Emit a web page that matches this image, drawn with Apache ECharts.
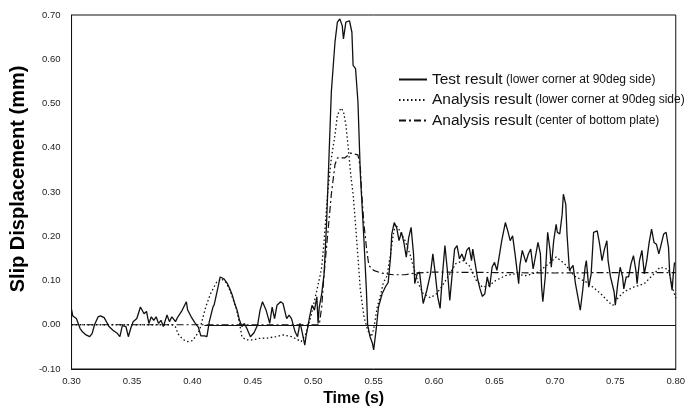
<!DOCTYPE html>
<html>
<head>
<meta charset="utf-8">
<script src="https://cdn.jsdelivr.net/npm/echarts@6/dist/echarts.min.js"></script>
<style>html,body{margin:0;padding:0;background:#fff}#c{width:688px;height:412px}</style>
</head>
<body>
<div id="c"></div>
<script>
const xTicks = [0.30,0.35,0.40,0.45,0.50,0.55,0.60,0.65,0.70,0.75,0.80];
const seriesNames = ['Test result (lower corner at 90deg side)','Analysis result (lower corner at 90deg side)','Analysis result (center of bottom plate)'];

const testTime = [0.300,0.301,0.304,0.307,0.309,0.312,0.315,0.317,0.319,0.322,0.324,0.327,0.328,0.331,0.334,0.338,0.340,0.342,0.345,0.347,0.349,0.351,0.354,0.357,0.360,0.362,0.364,0.366,0.368,0.370,0.372,0.374,0.376,0.379,0.381,0.383,0.386,0.388,0.391,0.395,0.396,0.399,0.402,0.405,0.407,0.410,0.412,0.414,0.417,0.418,0.420,0.423,0.426,0.429,0.431,0.433,0.435,0.437,0.439,0.441,0.443,0.445,0.448,0.451,0.454,0.456,0.458,0.461,0.464,0.466,0.468,0.470,0.473,0.475,0.478,0.480,0.482,0.485,0.487,0.489,0.490,0.493,0.494,0.497,0.499,0.501,0.503,0.504,0.505,0.507,0.509,0.511,0.513,0.515,0.518,0.520,0.522,0.524,0.525,0.527,0.530,0.532,0.533,0.535,0.537,0.539,0.542,0.544,0.545,0.547,0.549,0.550,0.552,0.554,0.557,0.560,0.562,0.564,0.565,0.567,0.569,0.571,0.573,0.575,0.577,0.579,0.581,0.583,0.584,0.586,0.588,0.590,0.591,0.594,0.597,0.599,0.601,0.603,0.605,0.607,0.609,0.611,0.613,0.615,0.617,0.619,0.621,0.623,0.625,0.627,0.629,0.631,0.632,0.634,0.636,0.638,0.640,0.642,0.644,0.646,0.648,0.650,0.652,0.654,0.656,0.659,0.661,0.663,0.665,0.667,0.670,0.671,0.673,0.676,0.678,0.680,0.682,0.685,0.686,0.688,0.689,0.690,0.692,0.694,0.696,0.697,0.699,0.701,0.702,0.704,0.706,0.707,0.709,0.710,0.712,0.713,0.715,0.717,0.719,0.721,0.723,0.725,0.726,0.728,0.730,0.732,0.735,0.737,0.739,0.741,0.743,0.744,0.746,0.749,0.750,0.752,0.754,0.756,0.757,0.759,0.761,0.763,0.765,0.767,0.768,0.770,0.772,0.774,0.776,0.778,0.780,0.782,0.784,0.786,0.788,0.790,0.792,0.794,0.795,0.797,0.798,0.799];
const testSlip = [0.034,0.020,0.014,-0.008,-0.016,-0.023,-0.027,-0.020,0.000,0.018,0.020,0.016,0.012,-0.004,-0.012,-0.020,-0.027,-0.002,-0.004,-0.027,-0.008,0.007,0.014,0.040,0.025,0.030,0.003,0.018,0.010,0.018,0.003,0.010,-0.004,0.022,0.007,0.018,0.007,0.018,0.030,0.052,0.034,0.018,0.005,-0.006,-0.025,-0.025,-0.027,0.007,0.040,0.045,0.070,0.108,0.104,0.093,0.081,0.067,0.048,0.033,0.010,-0.004,0.003,-0.008,-0.027,-0.018,0.000,0.033,0.052,0.033,0.003,0.040,0.014,0.044,0.052,0.048,0.014,0.022,0.014,-0.016,-0.027,0.003,-0.006,-0.046,-0.027,0.018,0.044,0.033,0.063,0.003,0.040,0.070,0.115,0.227,0.377,0.527,0.639,0.684,0.691,0.676,0.646,0.684,0.687,0.661,0.586,0.579,0.504,0.340,0.190,0.078,0.000,-0.027,-0.042,-0.057,-0.012,0.040,0.070,0.087,0.095,0.153,0.205,0.231,0.220,0.190,0.209,0.186,0.153,0.197,0.220,0.160,0.093,0.115,0.119,0.070,0.048,0.078,0.115,0.160,0.115,0.063,0.037,0.115,0.179,0.123,0.055,0.115,0.171,0.179,0.149,0.160,0.145,0.168,0.175,0.145,0.171,0.138,0.104,0.081,0.064,0.070,0.108,0.085,0.130,0.141,0.123,0.156,0.190,0.231,0.212,0.190,0.201,0.160,0.093,0.134,0.168,0.141,0.160,0.171,0.126,0.171,0.186,0.160,0.085,0.052,0.108,0.209,0.168,0.130,0.190,0.227,0.209,0.205,0.250,0.295,0.272,0.205,0.123,0.119,0.134,0.093,0.063,0.033,0.078,0.130,0.145,0.085,0.115,0.209,0.212,0.182,0.145,0.171,0.190,0.145,0.108,0.074,0.044,0.093,0.130,0.108,0.081,0.108,0.108,0.138,0.156,0.123,0.093,0.145,0.168,0.115,0.145,0.186,0.216,0.186,0.182,0.160,0.182,0.205,0.209,0.175,0.115,0.078,0.115,0.141];

const ana90Time = [0.300,0.383,0.386,0.388,0.392,0.396,0.400,0.403,0.406,0.411,0.415,0.420,0.424,0.428,0.431,0.436,0.439,0.441,0.444,0.450,0.455,0.462,0.469,0.475,0.482,0.486,0.490,0.494,0.498,0.503,0.506,0.507,0.509,0.512,0.515,0.518,0.520,0.523,0.525,0.527,0.529,0.531,0.533,0.535,0.537,0.539,0.542,0.545,0.548,0.550,0.553,0.556,0.558,0.561,0.564,0.566,0.568,0.571,0.576,0.580,0.583,0.587,0.591,0.597,0.602,0.607,0.613,0.618,0.624,0.629,0.635,0.640,0.646,0.651,0.659,0.667,0.676,0.686,0.695,0.701,0.708,0.716,0.727,0.738,0.745,0.748,0.752,0.757,0.765,0.774,0.782,0.787,0.794,0.798,0.800];
const ana90Slip = [0,0,-0.005,-0.020,-0.033,-0.038,-0.036,-0.025,-0.012,0.040,0.070,0.096,0.104,0.095,0.078,0.040,0.003,-0.027,-0.034,-0.034,-0.031,-0.030,-0.027,-0.023,-0.027,-0.032,-0.038,-0.020,0.018,0.078,0.115,0.130,0.190,0.300,0.377,0.429,0.474,0.490,0.482,0.452,0.400,0.340,0.295,0.227,0.153,0.078,0.018,-0.012,-0.027,-0.010,0.040,0.070,0.095,0.110,0.160,0.200,0.227,0.215,0.190,0.160,0.130,0.093,0.070,0.061,0.070,0.089,0.115,0.138,0.145,0.134,0.100,0.085,0.089,0.100,0.111,0.115,0.111,0.119,0.138,0.153,0.138,0.110,0.095,0.070,0.050,0.044,0.060,0.074,0.085,0.093,0.115,0.130,0.125,0.078,0.060];

const centerTime = [0.300,0.505,0.507,0.509,0.512,0.515,0.518,0.520,0.526,0.531,0.537,0.539,0.540,0.542,0.544,0.546,0.550,0.556,0.566,0.576,0.585,0.600,0.650,0.700,0.750,0.800];
const centerSlip = [0,0,0.040,0.115,0.205,0.295,0.362,0.377,0.377,0.388,0.384,0.354,0.300,0.227,0.175,0.134,0.123,0.117,0.113,0.113,0.117,0.119,0.118,0.117,0.118,0.118];

const zeroLineFrom = 0.41;

function pairs(t, v){ return t.map((x,i)=>[x, v[i]]); }

const chart = echarts.init(document.getElementById('c'), null, {renderer:'canvas'});
const FONT = 'Liberation Sans, Arial, sans-serif';
chart.setOption({
  animation:false,
  backgroundColor:'#fff',
  color:['#111','#111','#111'],
  grid:{left:67, right:11, top:15, bottom:41, show:true, borderColor:'#111', borderWidth:1, backgroundColor:'transparent'},
  legend:{
    orient:'vertical', left:398, top:71.5, itemGap:4.5, itemWidth:28, itemHeight:12,
    padding:0,
    data:seriesNames,
    itemStyle:{opacity:0, color:'transparent', borderWidth:0},
    formatter:function(n){ const k=n.indexOf(' ('); return '{a|'+n.slice(0,k)+'} {b|'+n.slice(k+1)+'}'; },
    textStyle:{color:'#111', fontFamily:FONT, rich:{a:{fontSize:15.5, lineHeight:15, fontFamily:FONT, color:'#111'}, b:{fontSize:12, lineHeight:15, fontFamily:FONT, color:'#111'}}}
  },
  xAxis:{
    type:'value', min:0.30, max:0.80, interval:0.05,
    name:'Time (s)', nameLocation:'middle', nameGap:22,
    nameTextStyle:{fontFamily:FONT, fontWeight:'bold', fontSize:16, color:'#000', padding:[0,40,0,0]},
    axisLine:{onZero:false, lineStyle:{color:'#111', width:1}},
    axisTick:{show:false}, splitLine:{show:false},
    axisLabel:{fontFamily:FONT, fontSize:9.5, color:'#222', margin:7, formatter:v=>v.toFixed(2)}
  },
  yAxis:{
    type:'value', min:-0.10, max:0.70, interval:0.10,
    name:'Slip Displacement (mm)', nameLocation:'middle', nameGap:34, nameRotate:90,
    nameTextStyle:{fontFamily:FONT, fontWeight:'bold', fontSize:20, color:'#000', padding:[0,0,0,26]},
    axisLine:{lineStyle:{color:'#111', width:1}},
    axisTick:{show:false}, splitLine:{show:false},
    axisLabel:{fontFamily:FONT, fontSize:9.5, color:'#222', margin:11, formatter:v=>v.toFixed(2)}
  },
  series:[
    {name:seriesNames[0], type:'line', data:pairs(testTime,testSlip), symbol:'none', showSymbol:false,
     itemStyle:{color:'#111'},
     lineStyle:{color:'#111', width:1.3, type:'solid'}, z:5,
     markLine:{silent:true, symbol:'none', label:{show:false}, lineStyle:{color:'#111', width:1, type:'solid'},
       data:[[{coord:[zeroLineFrom,0]},{coord:[0.80,0]}]]}},
    {name:seriesNames[1], type:'line', data:pairs(ana90Time,ana90Slip), symbol:'none', showSymbol:false,
     itemStyle:{color:'#111'},
     lineStyle:{color:'#111', width:1.3, type:[1.5,2.5]}, z:4},
    {name:seriesNames[2], type:'line', data:pairs(centerTime,centerSlip), symbol:'none', showSymbol:false,
     itemStyle:{color:'#111'},
     lineStyle:{color:'#111', width:1.2, type:[7,3,2,3]}, z:3}
  ]
});
</script>
</body>
</html>
